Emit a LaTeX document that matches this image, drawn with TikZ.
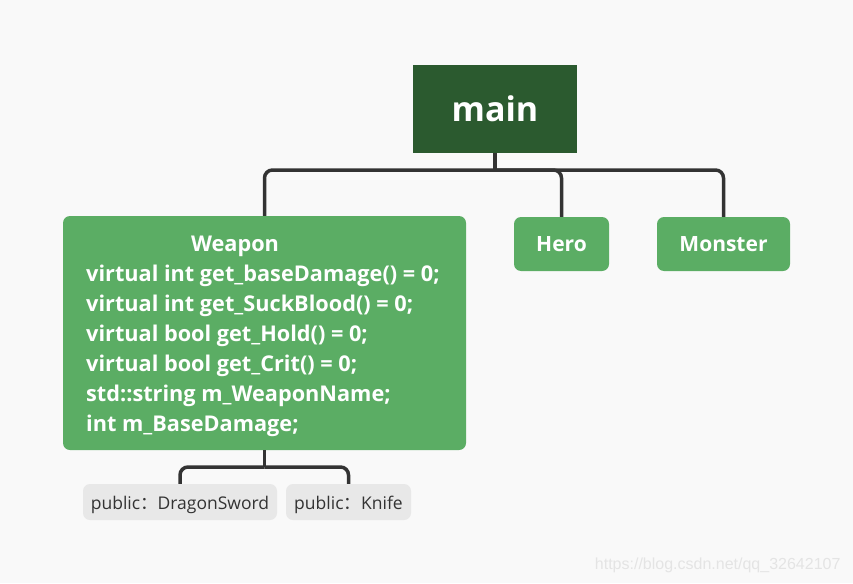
\documentclass[tikz,border=0pt]{standalone}
\usepackage{fontspec}
\setmainfont{Open Sans}
\newfontfamily\cjk{Noto Sans CJK SC}
\newfontfamily\wmfont{Liberation Sans}
\definecolor{bg}{HTML}{F9F9F9}
\definecolor{dkgreen}{HTML}{2B5A2F}
\definecolor{ltgreen}{HTML}{5BAD64}
\definecolor{subgray}{HTML}{E8E8E8}
\definecolor{linec}{HTML}{333333}
\definecolor{wm}{HTML}{E4E4E4}
\tikzset{
  conn/.style={draw=linec, line width=3.5pt, rounded corners=8pt},
  mainbox/.style={fill=dkgreen, draw=none, minimum width=164pt, minimum height=88pt, text=white, font=\bfseries\fontsize{34}{36}\selectfont},
  topic/.style={fill=ltgreen, draw=none, rounded corners=7pt, text=white, font=\bfseries\fontsize{21}{24}\selectfont, minimum height=54pt},
  subtopic/.style={fill=subgray, draw=none, rounded corners=7pt, text=linec, font=\fontsize{17.5}{20}\selectfont, minimum height=36pt, text height=18pt, text depth=4pt},
  wtext/.style={text=white, font=\bfseries\fontsize{21.7}{30}\selectfont, inner sep=0pt}
}
\begin{document}
\begin{tikzpicture}[x=1pt,y=-1pt]
\fill[bg] (0,0) rectangle (853,583);
\useasboundingbox (0,0) rectangle (853,583);
\node[mainbox] (main) at (495,109) {main};
\node[topic, minimum width=403pt, minimum height=234pt] (weapon) at (264.5,333) {};
\node[wtext] (wtitle) at (235,246) {Weapon};
\node[wtext, anchor=north west, align=left] (wbody) at (86,265) {virtual int get\_baseDamage() = 0;\\virtual int get\_SuckBlood() = 0;\\virtual bool get\_Hold() = 0;\\virtual bool get\_Crit() = 0;\\std::string m\_WeaponName;\\int m\_BaseDamage;};
\node[topic, minimum width=95pt] (hero) at (561.5,244) {Hero};
\node[topic, minimum width=133pt] (monster) at (723.5,244) {Monster};
\node[subtopic, minimum width=194pt] (dragon) at (180,502) {public{\cjk ：}DragonSword};
\node[subtopic, minimum width=125pt] (knife) at (348.5,502) {public{\cjk ：}Knife};
\coordinate (j1) at (495,170);
\coordinate (j2) at (264.5,467);
\draw[conn] (main.south) -- (j1);
\draw[conn] (j1) -| (weapon.north);
\draw[conn] (j1) -| (hero.north);
\draw[conn] (j1) -| (monster.north);
\draw[conn] (weapon.south) -- (j2);
\draw[conn] (j2) -| (dragon.north);
\draw[conn] (j2) -| (knife.north);
\node[text=wm, font=\wmfont\fontsize{16}{18}\selectfont, anchor=east] (wmark) at (844,565) {https://blog.csdn.net/qq\_32642107};
\end{tikzpicture}
\end{document}
